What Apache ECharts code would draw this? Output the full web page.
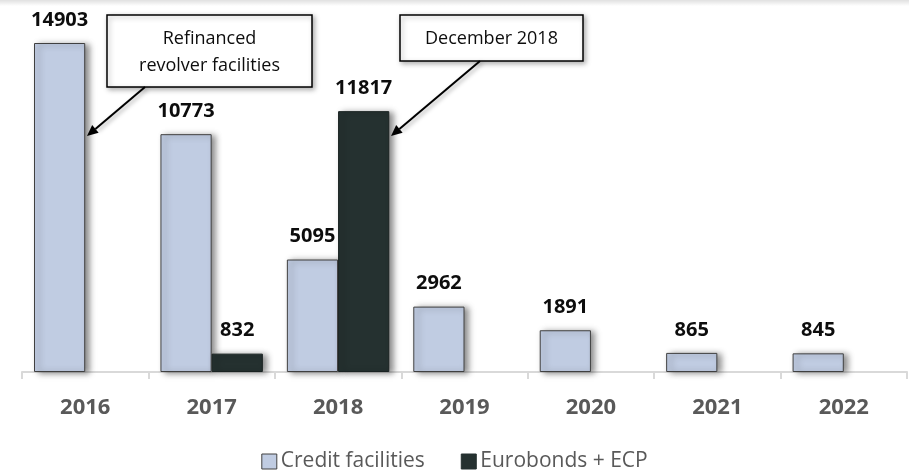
<!DOCTYPE html>
<html>
<head>
<meta charset="utf-8">
<script src="https://cdn.jsdelivr.net/npm/echarts@6/dist/echarts.min.js"></script>
<style>
html,body{margin:0;padding:0;background:#fff;}
#chart{width:909px;height:475px;}
</style>
</head>
<body>
<div id="chart"></div>
<script>
var categories = ['2016', '2017', '2018', '2019', '2020', '2021', '2022'];
var creditFacilities = [14903, 10773, 5095, 2962, 1891, 865, 845];
var eurobondsECP = ['-', 832, 11817, '-', '-', '-', '-'];
var seriesNames = ['Credit facilities', 'Eurobonds + ECP'];
var callout1Text = 'Refinanced\nrevolver facilities';
var callout2Text = 'December 2018';

var FONT = '"Open Sans", sans-serif';
var chart = echarts.init(document.getElementById('chart'), null, {renderer: 'canvas'});

var barLabel = {
  show: true,
  position: 'top',
  distance: 13,
  fontFamily: FONT,
  fontWeight: 'bold',
  fontSize: 20,
  color: '#0d0d0d'
};
var barShadow = {
  shadowColor: 'rgba(0,0,0,0.45)',
  shadowBlur: 6,
  shadowOffsetX: 4,
  shadowOffsetY: 1
};

function arrow(x1, y1, x2, y2) {
  var ang = Math.atan2(y2 - y1, x2 - x1);
  var len = 11, w = 5;
  var bx = x2 - len * Math.cos(ang), by = y2 - len * Math.sin(ang);
  var px = -Math.sin(ang) * w, py = Math.cos(ang) * w;
  return [
    {type: 'line', shape: {x1: x1, y1: y1, x2: bx, y2: by},
     style: {stroke: '#000', lineWidth: 2, shadowColor: 'rgba(0,0,0,0.35)', shadowBlur: 4, shadowOffsetX: 2, shadowOffsetY: 2}, z: 100},
    {type: 'polygon', shape: {points: [[x2, y2], [bx + px, by + py], [bx - px, by - py]]},
     style: {fill: '#000'}, z: 100}
  ];
}

var graphics = [
  {type: 'rect', shape: {x: 0, y: 0, width: 909, height: 6}, z: 0,
   style: {fill: new echarts.graphic.LinearGradient(0, 0, 0, 1, [
     {offset: 0, color: 'rgba(0,0,0,0.12)'}, {offset: 1, color: 'rgba(0,0,0,0)'}])}},
  {type: 'rect', shape: {x: 107, y: 15, width: 205, height: 72}, z: 100,
   style: {fill: '#fff', stroke: '#000', lineWidth: 1.5, shadowColor: 'rgba(0,0,0,0.3)', shadowBlur: 5, shadowOffsetX: 2, shadowOffsetY: 2}},
  {type: 'text', x: 209.5, y: 52, z: 101,
   style: {text: callout1Text, fontFamily: FONT, fontSize: 18, lineHeight: 27, fill: '#0d0d0d', align: 'center', verticalAlign: 'middle'}},
  {type: 'rect', shape: {x: 400, y: 15, width: 183, height: 46}, z: 100,
   style: {fill: '#fff', stroke: '#000', lineWidth: 1.5, shadowColor: 'rgba(0,0,0,0.3)', shadowBlur: 5, shadowOffsetX: 2, shadowOffsetY: 2}},
  {type: 'text', x: 491.5, y: 39, z: 101,
   style: {text: callout2Text, fontFamily: FONT, fontSize: 18, fill: '#0d0d0d', align: 'center', verticalAlign: 'middle'}}
].concat(arrow(145, 87, 87, 136)).concat(arrow(480, 61, 391, 136));

chart.setOption({
  animation: false,
  backgroundColor: '#fff',
  grid: {left: 22, right: 2, top: 43, bottom: 103},
  legend: {
    top: 451,
    left: 'center',
    padding: 0,
    itemWidth: 15,
    itemHeight: 15,
    itemGap: 36,
    icon: 'rect',
    textStyle: {fontFamily: FONT, fontSize: 21, color: '#595959', padding: [0, 0, 0, -1]},
    data: [
      {name: seriesNames[0], itemStyle: {color: '#c0cce2', borderColor: '#404040', borderWidth: 1}},
      {name: seriesNames[1], itemStyle: {color: '#253130', borderColor: '#253130', borderWidth: 1}}
    ]
  },
  xAxis: {
    type: 'category',
    data: categories,
    axisLine: {lineStyle: {color: '#d9d9d9', width: 2}},
    axisTick: {show: true, length: 7, lineStyle: {color: '#d9d9d9', width: 2}},
    axisLabel: {fontFamily: FONT, fontWeight: 'bold', fontSize: 22, color: '#595959', margin: 25}
  },
  yAxis: {
    type: 'value', min: 0, max: 14903, show: false, splitLine: {show: false}
  },
  series: [
    {
      name: seriesNames[0], type: 'bar', data: creditFacilities,
      barGap: '0%', barCategoryGap: '19%',
      itemStyle: Object.assign({color: '#c0cce2', borderColor: '#404040', borderWidth: 1}, barShadow),
      label: barLabel
    },
    {
      name: seriesNames[1], type: 'bar', data: eurobondsECP,
      barGap: '0%', barCategoryGap: '19%',
      itemStyle: Object.assign({color: '#253130', borderColor: '#1a2322', borderWidth: 1}, barShadow),
      label: barLabel
    }
  ],
  graphic: graphics
});
</script>
</body>
</html>
